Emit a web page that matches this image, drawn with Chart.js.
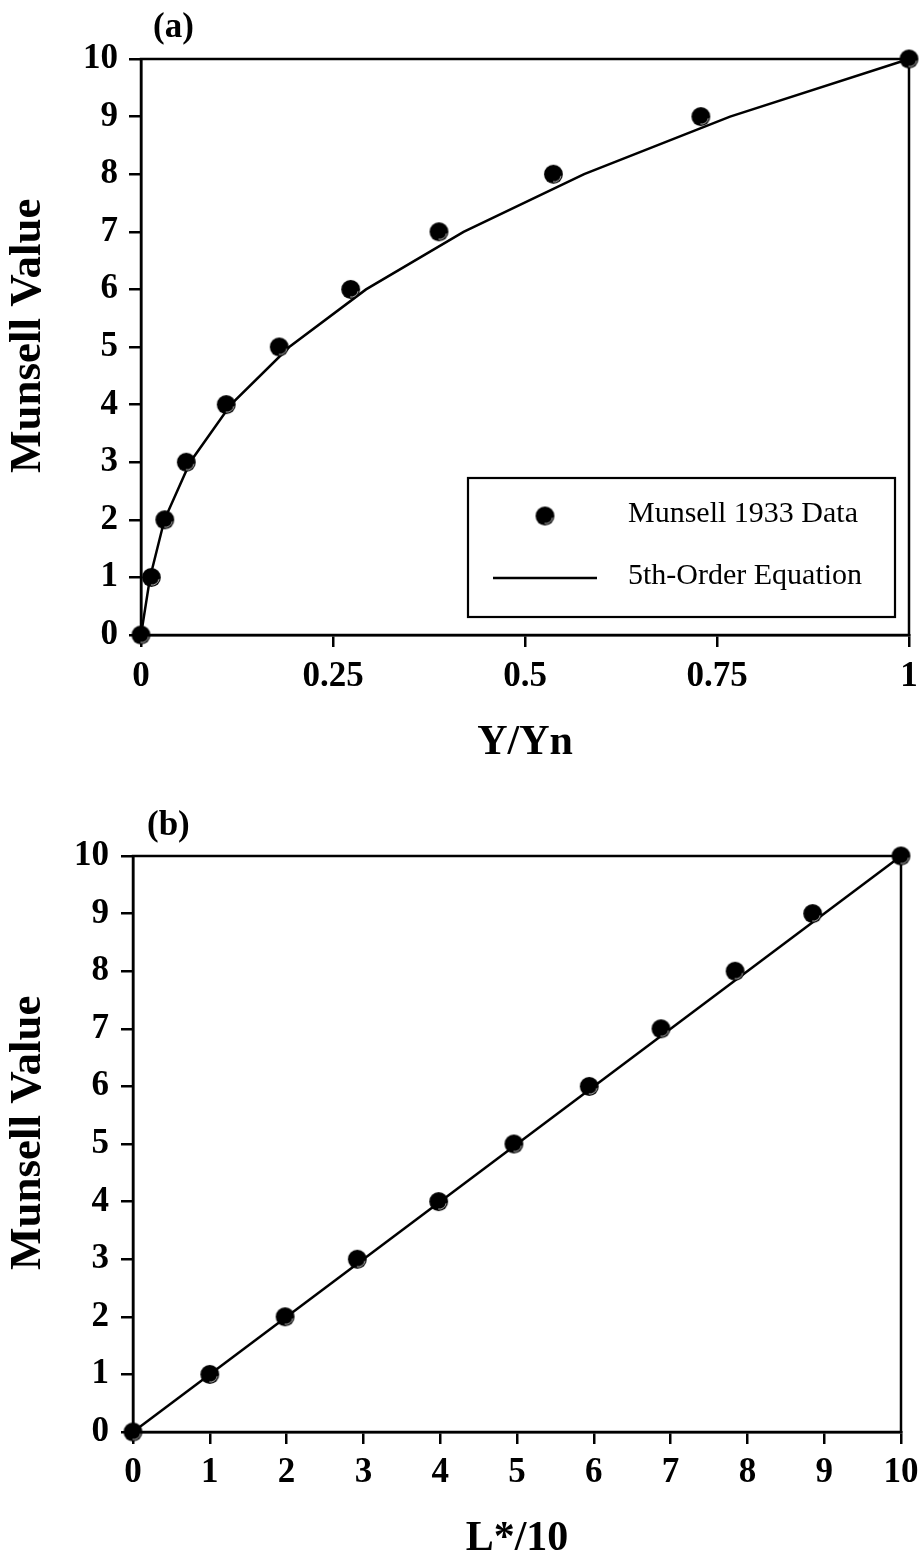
<!DOCTYPE html>
<html><head><meta charset="utf-8">
<script src="https://cdn.jsdelivr.net/npm/chart.js@4.4.1/dist/chart.umd.min.js"></script>
<style>
html,body{margin:0;padding:0;background:#fff;}
.wrap{position:relative;width:924px;height:780px;}
</style></head><body>
<div class="wrap"><canvas id="ca"></canvas></div>
<div class="wrap"><canvas id="cb"></canvas></div>
<script>
// ---- data ----
const munsellValues = [0, 1, 2, 3, 4, 5, 6, 7, 8, 9, 10];
const yYn1933 = [0, 0.0135, 0.031, 0.059, 0.111, 0.180, 0.273, 0.388, 0.537, 0.729, 1];
const yYnFit = [0, 0.0118, 0.0305, 0.0639, 0.117, 0.193, 0.293, 0.420, 0.577, 0.767, 1];
const lStar1933 = [0, 1.0, 1.98, 2.92, 3.98, 4.96, 5.94, 6.875, 7.84, 8.85, 10];
const lStarLineX = [0, 10];
const lStarLineY = [0, 10];
const yTickValues = [0, 1, 2, 3, 4, 5, 6, 7, 8, 9, 10];
const xTickValuesA = [0, 0.25, 0.5, 0.75, 1];
const xTickValuesB = [0, 1, 2, 3, 4, 5, 6, 7, 8, 9, 10];
const labelPoints = 'Munsell 1933 Data';
const labelLine = '5th-Order Equation';
const titleY = 'Munsell Value';
const titleXA = 'Y/Yn';
const titleXB = 'L*/10';

function pairs(xs, ys) { return xs.map((x, i) => ({ x: x, y: ys[i] })); }

function makeDot(r) {
  const s = Math.ceil(r * 2 + 2);
  const c = document.createElement('canvas');
  c.width = c.height = s;
  const g = c.getContext('2d');
  g.fillStyle = '#000';
  g.beginPath(); g.arc(s / 2, s / 2, r, 0, Math.PI * 2); g.fill();
  g.strokeStyle = 'rgba(255,255,255,0.7)'; g.lineWidth = 1;
  g.beginPath(); g.arc(s / 2 + 0.6, s / 2 + 0.6, r - 2.4, 0.05 * Math.PI, 0.55 * Math.PI); g.stroke();
  return c;
}
const dot = makeDot(9.4);

const SERIF = '"Liberation Serif", "Times New Roman", serif';

const framePlugin = {
  id: 'frame',
  beforeDatasetsDraw(chart) {
    const a = chart.chartArea, ctx = chart.ctx;
    ctx.save();
    ctx.strokeStyle = '#000'; ctx.lineWidth = 2.5;
    ctx.strokeRect(a.left, a.top, a.right - a.left, a.bottom - a.top);
    ctx.restore();
  }
};

function panelLabelPlugin(text, dx, dy) {
  return {
    id: 'panelLabel',
    afterDraw(chart) {
      const a = chart.chartArea, ctx = chart.ctx;
      ctx.save();
      ctx.fillStyle = '#000';
      ctx.font = 'bold 35px ' + SERIF;
      ctx.textAlign = 'left'; ctx.textBaseline = 'middle';
      ctx.fillText(text, a.left + dx, a.top + dy);
      ctx.restore();
    }
  };
}

const legendPlugin = {
  id: 'boxLegend',
  afterDraw(chart) {
    const ctx = chart.ctx;
    const ds = chart.data.datasets;
    const bx = 468, by = 478, bw = 427, bh = 139;
    ctx.save();
    ctx.strokeStyle = '#000'; ctx.lineWidth = 2.2;
    ctx.strokeRect(bx, by, bw, bh);
    ctx.drawImage(dot, 545 - dot.width / 2, 516 - dot.height / 2);
    ctx.beginPath(); ctx.lineWidth = 2.5;
    ctx.moveTo(493, 578); ctx.lineTo(597, 578); ctx.stroke();
    ctx.fillStyle = '#000';
    ctx.font = '30px ' + SERIF;
    ctx.textAlign = 'left'; ctx.textBaseline = 'middle';
    ctx.fillText(ds[0].label, 628, 514);
    ctx.fillText(ds[1].label, 628, 576);
    ctx.restore();
  }
};

function makeChart(id, cfg) {
  const tickFont = { family: SERIF, size: 35, weight: 'bold' };
  const titleFont = { family: SERIF, size: 45, weight: 'bold', lineHeight: 1 };
  const xTitleFont = { family: SERIF, size: 42, weight: 'bold', lineHeight: 1 };
  return new Chart(document.getElementById(id), {
    type: 'scatter',
    data: {
      datasets: [
        { label: labelPoints, data: cfg.points, pointStyle: dot, pointRadius: 9, pointHoverRadius: 9,
          showLine: false, clip: false, backgroundColor: '#000', borderColor: '#000' },
        { label: labelLine, data: cfg.line, showLine: true, pointRadius: 0, pointHoverRadius: 0,
          borderColor: '#000', borderWidth: 2.5, tension: 0, fill: false, clip: false }
      ]
    },
    options: {
      responsive: true, maintainAspectRatio: false, devicePixelRatio: 1, animation: false,
      events: [],
      layout: { padding: { left: 0, top: cfg.top, right: cfg.right, bottom: 0 } },
      plugins: { legend: { display: false }, tooltip: { enabled: false } },
      scales: {
        x: {
          type: 'linear', min: cfg.xMin, max: cfg.xMax,
          afterBuildTicks: s => { s.ticks = cfg.xTicks.map(v => ({ value: v })); },
          afterFit: s => { s.height = cfg.xHeight; s.paddingLeft = 0; s.paddingRight = 0; },
          grid: { display: true, drawOnChartArea: false, drawTicks: true, tickLength: 12, color: '#000', lineWidth: 2.5 },
          border: { display: true, color: '#000', width: 2.5 },
          ticks: { color: '#000', font: tickFont, padding: cfg.xTickPad, maxRotation: 0, autoSkip: false,
                   callback: v => String(v) },
          title: { display: true, text: cfg.xTitle, color: '#000', font: xTitleFont, padding: { top: 0, bottom: cfg.xTitlePad } }
        },
        y: {
          type: 'linear', min: 0, max: 10,
          afterBuildTicks: s => { s.ticks = yTickValues.map(v => ({ value: v })); },
          afterFit: s => { s.width = cfg.yWidth; s.paddingTop = 0; s.paddingBottom = 0; },
          grid: { display: true, drawOnChartArea: false, drawTicks: true, tickLength: 12, color: '#000', lineWidth: 2.5 },
          border: { display: true, color: '#000', width: 2.5 },
          ticks: { color: '#000', font: tickFont, padding: cfg.yTickPad, autoSkip: false, callback: v => String(v) },
          title: { display: true, text: '  ' + titleY, color: '#000', font: titleFont, padding: { top: 5.5, bottom: 0 } }
        }
      }
    },
    plugins: cfg.plugins
  });
}

makeChart('ca', {
  points: pairs(yYn1933, munsellValues),
  line: pairs(yYnFit, munsellValues),
  xMin: 0, xMax: 1, xTicks: xTickValuesA, xTitle: titleXA,
  top: 59, right: 15, yWidth: 141, xHeight: 145, xTickPad: 9, yTickPad: 11, xTitlePad: 16,
  plugins: [framePlugin, panelLabelPlugin('(a)', 12, -31), legendPlugin]
});

makeChart('cb', {
  points: pairs(lStar1933, munsellValues),
  line: pairs(lStarLineX, lStarLineY),
  xMin: 0, xMax: 10, xTicks: xTickValuesB, xTitle: titleXB,
  top: 76, right: 23, yWidth: 133, xHeight: 128, xTickPad: 8, yTickPad: 12, xTitlePad: 0,
  plugins: [framePlugin, panelLabelPlugin('(b)', 14, -30)]
});
</script>
</body></html>
